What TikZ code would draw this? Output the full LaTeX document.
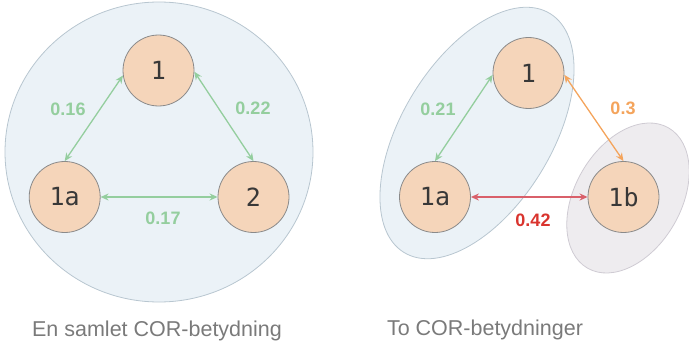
\documentclass[tikz,border=0pt]{standalone}
\usepackage{fontspec}
\setmainfont{Liberation Sans}
\newfontfamily\monofnt{DejaVu Sans Mono}
\usetikzlibrary{arrows.meta}
\definecolor{peach}{HTML}{F5D5BA}
\definecolor{nodeborder}{HTML}{8A8A8A}
\definecolor{bluefill}{HTML}{EBF2F7}
\definecolor{blueborder}{HTML}{B8C6D0}
\definecolor{grayfill}{HTML}{EEECEF}
\definecolor{grayborder}{HTML}{CFCBD3}
\definecolor{greenc}{HTML}{94CE9E}
\definecolor{orangec}{HTML}{F4A45C}
\definecolor{redarrow}{HTML}{D9606A}
\definecolor{redlabel}{HTML}{D9342E}
\definecolor{captiongray}{HTML}{7A7A7A}
\definecolor{textdark}{HTML}{383838}
\tikzset{
  cnode/.style={circle, draw=nodeborder, fill=peach, line width=0.8pt, minimum size=71pt, inner sep=0pt, font=\monofnt\fontsize{25}{25}\selectfont, text=textdark},
  link/.style={line width=1.3pt, {Stealth[length=8pt,width=7pt]}-{Stealth[length=8pt,width=7pt]}},
  wlabel/.style={font=\bfseries\fontsize{18}{18}\selectfont},
  caption/.style={font=\fontsize{21.5}{22}\selectfont, text=captiongray},
}
\begin{document}
\begin{tikzpicture}[x=1pt,y=1pt]
\useasboundingbox (0,0) rectangle (689,-345);
% group shapes
\draw[fill=bluefill, draw=blueborder, line width=0.8pt] (159,-152) ellipse [x radius=154, y radius=150];
\draw[fill=bluefill, draw=blueborder, line width=0.8pt, rotate around={58.6:(477,-133)}] (477,-133) ellipse [x radius=140, y radius=75];
\draw[fill=grayfill, draw=grayborder, line width=0.8pt, rotate around={60:(628,-198)}] (628,-198) ellipse [x radius=81, y radius=53];
% left nodes
\node[cnode] (L1) at (158.5,-70.5) {1};
\node[cnode] (L1a) at (64.7,-197) {1a};
\node[cnode] (L2) at (253.5,-197) {2};
% right nodes
\node[cnode] (R1) at (528.5,-73) {1};
\node[cnode] (R1a) at (435,-197) {1a};
\node[cnode] (R1b) at (623.5,-197) {1b};
% left links
\draw[link, greenc] (L1.188) -- (L1a.north);
\draw[link, greenc] (L1.-2) -- (L2.north);
\draw[link, greenc] (L1a.east) -- (L2.west);
\node[wlabel, text=greenc] (l016) at (68,-109) {0.16};
\node[wlabel, text=greenc] (l022) at (253,-108) {0.22};
\node[wlabel, text=greenc] (l017) at (163,-218) {0.17};
% right links
\draw[link, greenc] (R1.183) -- (R1a.north);
\draw[link, orangec] (R1.-3) -- (R1b.north);
\draw[link, redarrow] (R1a.east) -- (R1b.west);
\node[wlabel, text=greenc] (l021) at (438,-109) {0.21};
\node[wlabel, text=orangec] (l03) at (623,-108) {0.3};
\node[wlabel, text=redlabel] (l042) at (533,-220) {0.42};
% captions
\node[caption] (capL) at (157,-331) {En samlet COR-betydning};
\node[caption] (capR) at (485,-330) {To COR-betydninger};
\end{tikzpicture}
\end{document}
